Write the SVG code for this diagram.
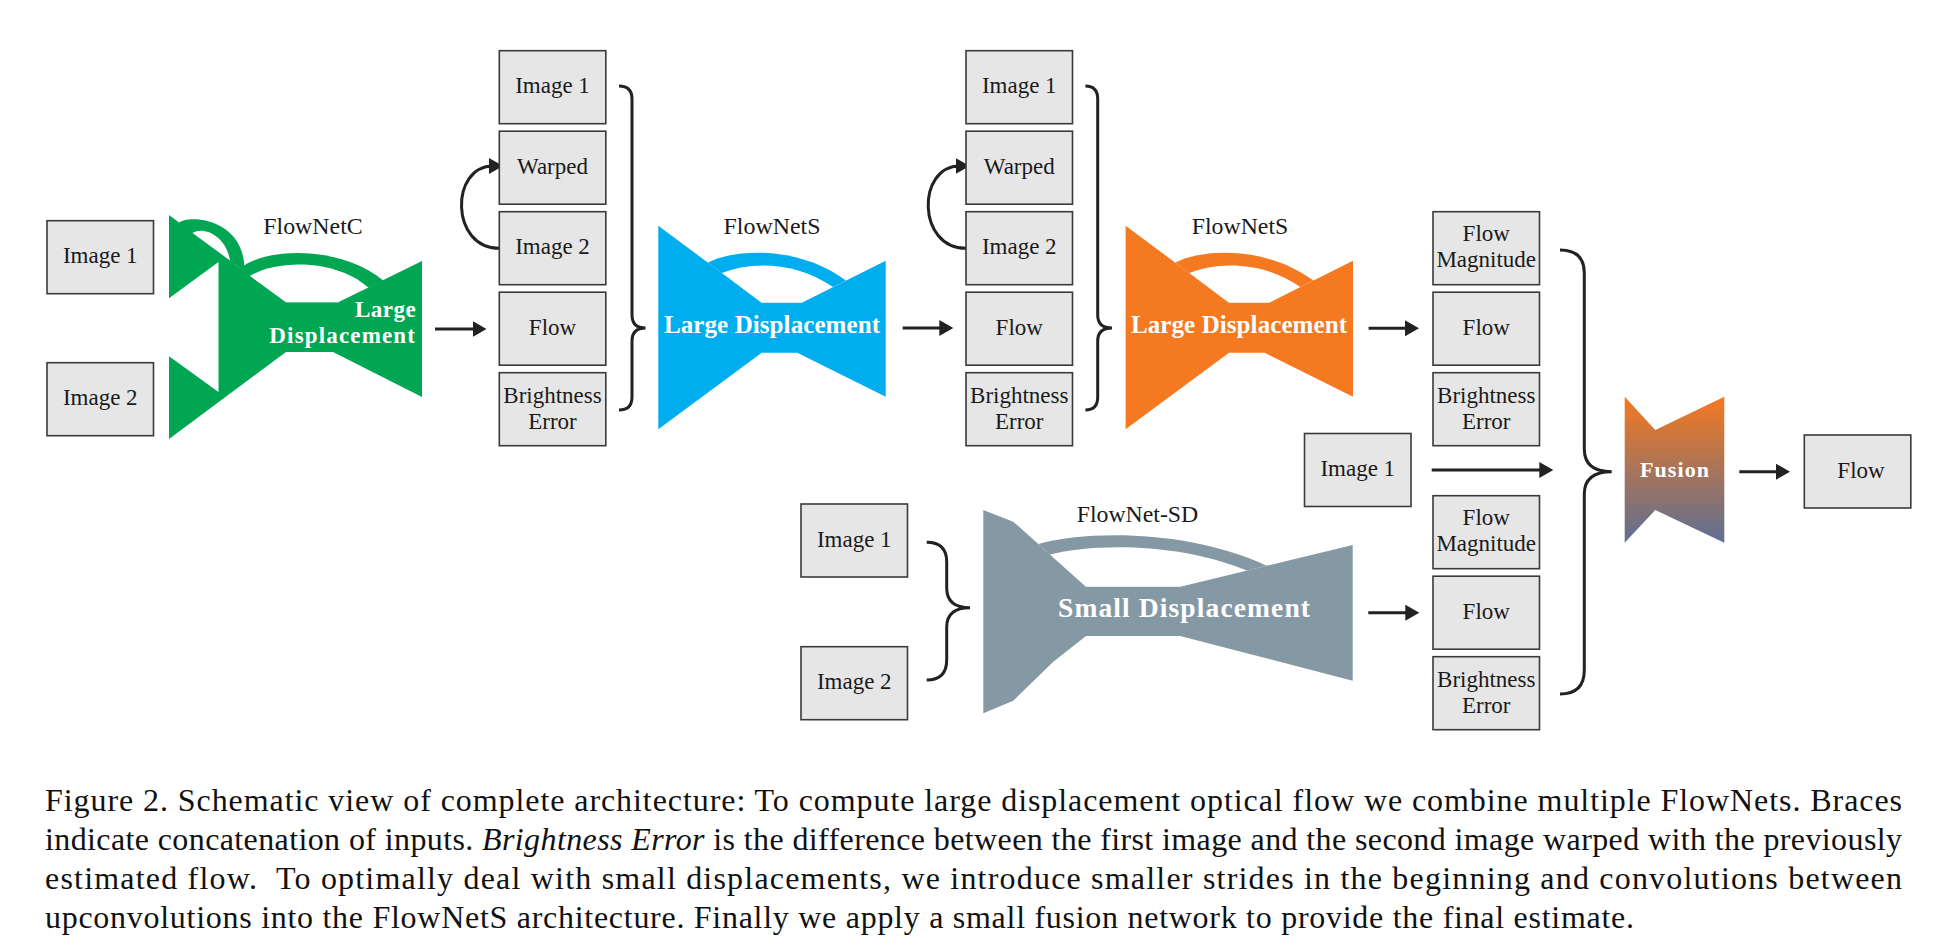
<svg xmlns="http://www.w3.org/2000/svg" xmlns:xlink="http://www.w3.org/1999/xlink" width="1938" height="952" viewBox="0 0 1938 952">
<style>
.box{fill:#e6e6e6;stroke:#3a3a3a;stroke-width:1.6}
.lbl{font-family:"Liberation Serif",serif;font-size:23px;fill:#1a1a1a;text-anchor:middle}
.ttl{font-family:"Liberation Serif",serif;font-size:23px;fill:#1a1a1a;text-anchor:middle}
.wl{font-family:"Liberation Serif",serif;font-weight:bold;fill:#ffffff}
.con{fill:none;stroke:#222;stroke-width:3}
.cap{font-family:"Liberation Serif",serif;font-size:32px;fill:#111}
</style>
<defs>
<marker id="ah" markerUnits="userSpaceOnUse" markerWidth="16" markerHeight="18" viewBox="0 0 16 18" refX="4" refY="8" orient="auto">
<path d="M0,0 L14,8 L0,16 Z" fill="#222"/>
</marker>
<linearGradient id="fg" x1="0" y1="0" x2="0" y2="1">
<stop offset="0" stop-color="#f47920"/>
<stop offset="1" stop-color="#5e6f93"/>
</linearGradient>
<g id="fnS">
<polygon points="658.3,225.7 761.7,302.7 801.7,302.7 885.7,260.7 885.7,396.7 797.3,352.7 761.7,352.7 658.3,429.3"/>
<path d="M708,262.7 C735,248 800,246 846,280.6 L801.7,302.7 L761.7,302.7 Z"/>
<path d="M722,273.1 C748,262 795,260 833,287.1 L801.7,302.7 L761.7,302.7 Z" fill="#ffffff"/>
</g>
</defs>

<!-- connectors -->
<g id="connectors">
<path class="con" d="M435,329 H476.5" marker-end="url(#ah)"/>
<path class="con" d="M902.7,328 H943.3" marker-end="url(#ah)"/>
<path class="con" d="M1368.6,328.3 H1409" marker-end="url(#ah)"/>
<path class="con" d="M1368.3,612.7 H1409.3" marker-end="url(#ah)"/>
<path class="con" d="M1431.7,470 H1543.3" marker-end="url(#ah)"/>
<path class="con" d="M1739.3,471.7 H1780" marker-end="url(#ah)"/>
<path class="con" d="M499.3,248.3 C450,248.3 450,166 493,166" marker-end="url(#ah)"/>
<path class="con" d="M966,248.3 C916.7,248.3 916.7,166 959.7,166" marker-end="url(#ah)"/>
<path class="con" d="M619,86 Q632,86 632,99 V315 Q632,328 645.5,328 Q632,328 632,341 V397 Q632,410 619,410"/>
<path class="con" d="M1085.4,86 Q1097.7,86 1097.7,99 V315 Q1097.7,328 1112,328 Q1097.7,328 1097.7,341 V397 Q1097.7,410 1085.4,410"/>
<path class="con" d="M926.7,542.3 Q946.7,542.3 946.7,562 V588 Q946.7,607.7 970,607.7 Q946.7,607.7 946.7,627 V660 Q946.7,680 926.7,680"/>
<path class="con" d="M1560,250 Q1584.3,250 1584.3,273 V449 Q1584.3,471.7 1611.7,471.7 Q1584.3,471.7 1584.3,494 V670 Q1584.3,694 1560,694"/>
</g>

<!-- left inputs -->
<g id="n_img1_a"><rect class="box" x="47" y="220.7" width="106.5" height="73"/><text class="lbl" x="100.25" y="263.2">Image 1</text></g>
<g id="n_img2_a"><rect class="box" x="47" y="362.7" width="106.5" height="73"/><text class="lbl" x="100.25" y="405.2">Image 2</text></g>

<!-- FlowNetC -->
<g id="n_flownetc">
<polygon fill="#00a651" points="169,215 286,302.3 338,302.3 422,261 422,397 333,352 286,352 169,439"/>
<polygon fill="#ffffff" points="168,299 218.5,262 218.5,392 168,355.5"/>
<path fill="#00a651" d="M178.3,223 C190,214 239,219 244,262 L244.5,271.5 Z"/>
<path fill="#ffffff" d="M192.5,233 C204,226 226,236 230,260.5 Z"/>
<path fill="#00a651" d="M240,268.6 C265,247 340,245 383.3,280.5 L338,302.3 L286,302.3 Z"/>
<path fill="#ffffff" d="M250,276 C275,260 335,258 368.3,287.6 L338,302.3 L286,302.3 Z"/>
<text class="ttl" x="313" y="234" textLength="99.4" lengthAdjust="spacingAndGlyphs">FlowNetC</text>
<text class="wl" x="415.7" y="316.7" font-size="23" text-anchor="end" textLength="60.7">Large</text>
<text class="wl" x="415" y="343.3" font-size="23" text-anchor="end" textLength="145.7">Displacement</text>
</g>

<!-- stack 1 -->
<g id="n_s1_img1"><rect class="box" x="499.3" y="50.7" width="106.5" height="73"/><text class="lbl" x="552.5" y="93.2">Image 1</text></g>
<g id="n_s1_warped"><rect class="box" x="499.3" y="131.2" width="106.5" height="73"/><text class="lbl" x="552.5" y="173.7">Warped</text></g>
<g id="n_s1_img2"><rect class="box" x="499.3" y="211.7" width="106.5" height="73"/><text class="lbl" x="552.5" y="254.2">Image 2</text></g>
<g id="n_s1_flow"><rect class="box" x="499.3" y="292.2" width="106.5" height="73"/><text class="lbl" x="552.5" y="334.7">Flow</text></g>
<g id="n_s1_be"><rect class="box" x="499.3" y="372.7" width="106.5" height="73"/><text class="lbl" x="552.5" y="403.2">Brightness</text><text class="lbl" x="552.5" y="428.7">Error</text></g>

<!-- FlowNetS 1 -->
<g id="n_flownets1">
<use xlink:href="#fnS" fill="#00aeef"/>
<text class="ttl" x="772" y="234" textLength="97" lengthAdjust="spacingAndGlyphs">FlowNetS</text>
<text class="wl" x="772" y="333" font-size="25" text-anchor="middle" textLength="216">Large Displacement</text>
</g>

<!-- stack 2 -->
<g id="n_s2_img1"><rect class="box" x="966" y="50.7" width="106.5" height="73"/><text class="lbl" x="1019.25" y="93.2">Image 1</text></g>
<g id="n_s2_warped"><rect class="box" x="966" y="131.2" width="106.5" height="73"/><text class="lbl" x="1019.25" y="173.7">Warped</text></g>
<g id="n_s2_img2"><rect class="box" x="966" y="211.7" width="106.5" height="73"/><text class="lbl" x="1019.25" y="254.2">Image 2</text></g>
<g id="n_s2_flow"><rect class="box" x="966" y="292.2" width="106.5" height="73"/><text class="lbl" x="1019.25" y="334.7">Flow</text></g>
<g id="n_s2_be"><rect class="box" x="966" y="372.7" width="106.5" height="73"/><text class="lbl" x="1019.25" y="403.2">Brightness</text><text class="lbl" x="1019.25" y="428.7">Error</text></g>

<!-- FlowNetS 2 -->
<g id="n_flownets2">
<use xlink:href="#fnS" x="467.3" fill="#f47920"/>
<text class="ttl" x="1240" y="234" textLength="96.5" lengthAdjust="spacingAndGlyphs">FlowNetS</text>
<text class="wl" x="1239" y="333" font-size="25" text-anchor="middle" textLength="216">Large Displacement</text>
</g>

<!-- right column upper -->
<g id="n_r_fm1"><rect class="box" x="1433" y="211.7" width="106.5" height="73"/><text class="lbl" x="1486.25" y="241.2">Flow</text><text class="lbl" x="1486.25" y="266.7">Magnitude</text></g>
<g id="n_r_flow1"><rect class="box" x="1433" y="292.2" width="106.5" height="73"/><text class="lbl" x="1486.25" y="334.7">Flow</text></g>
<g id="n_r_be1"><rect class="box" x="1433" y="372.7" width="106.5" height="73"/><text class="lbl" x="1486.25" y="403.2">Brightness</text><text class="lbl" x="1486.25" y="428.7">Error</text></g>

<!-- Image 1 middle -->
<g id="n_img1_mid"><rect class="box" x="1304.5" y="433.5" width="106.5" height="73"/><text class="lbl" x="1357.75" y="476">Image 1</text></g>

<!-- right column lower -->
<g id="n_r_fm2"><rect class="box" x="1433" y="495.7" width="106.5" height="73"/><text class="lbl" x="1486.25" y="525.2">Flow</text><text class="lbl" x="1486.25" y="550.7">Magnitude</text></g>
<g id="n_r_flow2"><rect class="box" x="1433" y="576.2" width="106.5" height="73"/><text class="lbl" x="1486.25" y="618.7">Flow</text></g>
<g id="n_r_be2"><rect class="box" x="1433" y="656.7" width="106.5" height="73"/><text class="lbl" x="1486.25" y="687.2">Brightness</text><text class="lbl" x="1486.25" y="712.7">Error</text></g>

<!-- bottom inputs -->
<g id="n_img1_b"><rect class="box" x="801" y="504" width="106.5" height="73"/><text class="lbl" x="854.25" y="546.5">Image 1</text></g>
<g id="n_img2_b"><rect class="box" x="801" y="646.7" width="106.5" height="73"/><text class="lbl" x="854.25" y="689.2">Image 2</text></g>

<!-- FlowNet-SD -->
<g id="n_flownetsd">
<polygon fill="#8599a5" points="983.3,510 1013.3,521.7 1086,586.7 1180,586.7 1352.7,545 1352.7,680.7 1180,636 1086,636 1053.3,661.7 1013.3,700.7 983.3,713.3"/>
<path fill="#8599a5" d="M1038.3,544 C1090,530 1190,530 1266.7,565.7 L1180,586.7 L1086,586.7 Z"/>
<path fill="#ffffff" d="M1050,554.5 C1095,543 1180,543 1246.7,570.5 L1180,586.7 L1086,586.7 Z"/>
<text class="ttl" x="1137.5" y="522.3" textLength="121.6" lengthAdjust="spacingAndGlyphs">FlowNet-SD</text>
<text class="wl" x="1184" y="617" font-size="27.5" text-anchor="middle" textLength="252">Small Displacement</text>
</g>

<!-- Fusion -->
<g id="n_fusion">
<polygon fill="url(#fg)" points="1624.7,396.7 1655.3,430 1724.3,396.7 1724.3,542.7 1655.3,510 1624.7,542.7"/>
<text class="wl" x="1674.5" y="476.7" font-size="22" text-anchor="middle" textLength="69">Fusion</text>
</g>

<!-- final Flow -->
<g id="n_final_flow"><rect class="box" x="1804.3" y="435" width="106.5" height="73"/><text class="lbl" x="1861" y="477.5">Flow</text></g>

<!-- caption -->
<g id="caption">
<text class="cap" x="45" y="811" textLength="1857" lengthAdjust="spacing">Figure 2. Schematic view of complete architecture: To compute large displacement optical flow we combine multiple FlowNets. Braces</text>
<text class="cap" x="45" y="850" textLength="1857" lengthAdjust="spacing">indicate concatenation of inputs. <tspan font-style="italic">Brightness Error</tspan> is the difference between the first image and the second image warped with the previously</text>
<text class="cap" x="45" y="889" textLength="1857" lengthAdjust="spacing" xml:space="preserve">estimated flow.  To optimally deal with small displacements, we introduce smaller strides in the beginning and convolutions between</text>
<text class="cap" x="45" y="928" textLength="1589" lengthAdjust="spacing">upconvolutions into the FlowNetS architecture. Finally we apply a small fusion network to provide the final estimate.</text>
</g>
</svg>
